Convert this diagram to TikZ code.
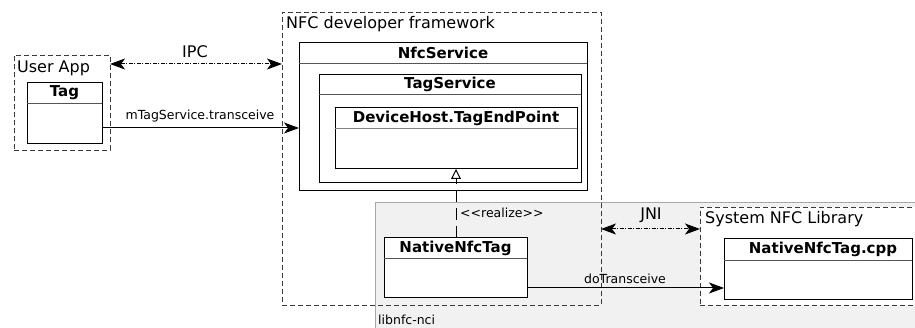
\documentclass[tikz,border=0pt]{standalone}
\usepackage{fontspec}
\setmainfont{DejaVu Sans}
\usetikzlibrary{arrows.meta,calc}
\definecolor{dashc}{HTML}{3A3A3A}
\definecolor{grayfill}{HTML}{F1F1F1}
\definecolor{graybd}{HTML}{A8A8A8}
\definecolor{divc}{HTML}{555555}
\begin{document}
\begin{tikzpicture}[x=1pt,y=-1pt,
  container/.style={draw=dashc, dash pattern=on 5pt off 3pt, line width=0.9pt, anchor=north west, inner sep=0pt, outer sep=0pt},
  classbox/.style={draw=black, fill=white, line width=1pt, anchor=north west, inner sep=0pt, outer sep=0pt},
  divline/.style={draw=divc, line width=0.9pt},
  ctitle/.style={font=\fontsize{15}{18}\selectfont\bfseries, inner sep=0pt},
  biglbl/.style={font=\fontsize{16}{19}\selectfont, inner sep=0pt},
  smalllbl/.style={font=\fontsize{12.5}{15}\selectfont, inner sep=0pt},
  arr/.style={-{Stealth[length=15pt,width=11pt,inset=4pt]}, line width=1pt},
  dd/.style={{Stealth[length=15pt,width=11pt,inset=4pt]}-{Stealth[length=15pt,width=11pt,inset=4pt]}, line width=1pt, dash pattern=on 4pt off 1.5pt on 1pt off 1.5pt},
  realz/.style={-{Triangle[open,length=10pt,width=10pt,fill=white]}, line width=1pt, dash pattern=on 12pt off 6pt}
]
\useasboundingbox (0,0) rectangle (915,328);

% libnfc-nci grey area
\node[fill=grayfill, anchor=north west, inner sep=0pt, outer sep=0pt, minimum width=545pt, minimum height=130pt] (lib) at (375,203) {};
\draw[graybd, line width=1pt] (lib.south west) -- (lib.north west) -- (lib.north east);
\node[smalllbl, anchor=base west] (libl) at (378,324) {libnfc-nci};

% containers
\node[container, minimum width=96pt, minimum height=95pt] (userapp) at (14,55) {};
\node[biglbl, anchor=base west] (userappl) at (17,73) {User App};

\node[container, minimum width=319pt, minimum height=293pt] (nfcfw) at (282,12) {};
\node[biglbl, anchor=base west] (nfcfwl) at (286,29) {NFC developer framework};

\node[container, fill=white, minimum width=225pt, minimum height=98pt] (sys) at (700,207) {};
\node[biglbl, anchor=base west] (sysl) at (705,224) {System NFC Library};

% class boxes
\node[classbox, minimum width=75pt, minimum height=61pt] (tag) at (27,83) {};
\draw[divline] ($(tag.north west)+(0,20)$) -- ($(tag.north east)+(0,20)$);
\node[ctitle] (tagt) at ($(tag.north)+(0,10)$) {Tag};

\node[classbox, minimum width=288pt, minimum height=148pt] (nfcsvc) at (299,43) {};
\draw[divline] ($(nfcsvc.north west)+(0,20)$) -- ($(nfcsvc.north east)+(0,20)$);
\node[ctitle] (nfcsvct) at ($(nfcsvc.north)+(0,10)$) {NfcService};

\node[classbox, minimum width=262pt, minimum height=108pt] (tagsvc) at (319,75) {};
\draw[divline] ($(tagsvc.north west)+(0,19)$) -- ($(tagsvc.north east)+(0,19)$);
\node[ctitle] (tagsvct) at ($(tagsvc.north)+(0,9.5)$) {TagService};

\node[classbox, minimum width=242pt, minimum height=61pt] (tep) at (335,108) {};
\draw[divline, draw=gray] ($(tep.north west)+(0,20)$) -- ($(tep.north east)+(0,20)$);
\node[ctitle] (tept) at ($(tep.north)+(0,10)$) {DeviceHost.TagEndPoint};

\node[classbox, minimum width=143pt, minimum height=60pt] (nnt) at (384,238) {};
\draw[divline] ($(nnt.north west)+(0,20)$) -- ($(nnt.north east)+(0,20)$);
\node[ctitle] (nntt) at ($(nnt.north)+(0,10.5)$) {NativeNfcTag};

\node[classbox, minimum width=188pt, minimum height=61pt] (cpp) at (724,239) {};
\draw[divline] ($(cpp.north west)+(0,21)$) -- ($(cpp.north east)+(0,21)$);
\node[ctitle] (cppt) at ($(cpp.north)+(5,10.5)$) {NativeNfcTag.cpp};

% connectors
\coordinate (ipcA) at ($(userapp.north east)+(0,9)$);
\draw[dd] (ipcA) -- (ipcA -| nfcfw.west);
\node[biglbl] (ipcl) at (195,52) {IPC};

\coordinate (trA) at ($(tag.south east)+(0,-16)$);
\draw[arr] (trA) -- (trA -| nfcsvc.west);
\node[smalllbl] (trl) at (200,116) {mTagService.transceive};

\coordinate (rzA) at ($(nnt.north west)+(72,0)$);
\draw[realz] (rzA) -- (rzA |- tep.south);
\node[smalllbl, anchor=west] (rzl) at (460,213) {<\kern0pt<realize>\kern0pt>};

\coordinate (jniA) at ($(nfcfw.north east)+(0,217)$);
\draw[dd] (jniA) -- (jniA -| sys.west);
\node[biglbl] (jnil) at (651,215) {JNI};

\coordinate (dtA) at ($(nnt.south east)+(0,-10)$);
\draw[arr] (dtA) -- (dtA -| cpp.west);
\node[smalllbl] (dtl) at (625,279) {doTransceive};
\end{tikzpicture}
\end{document}
